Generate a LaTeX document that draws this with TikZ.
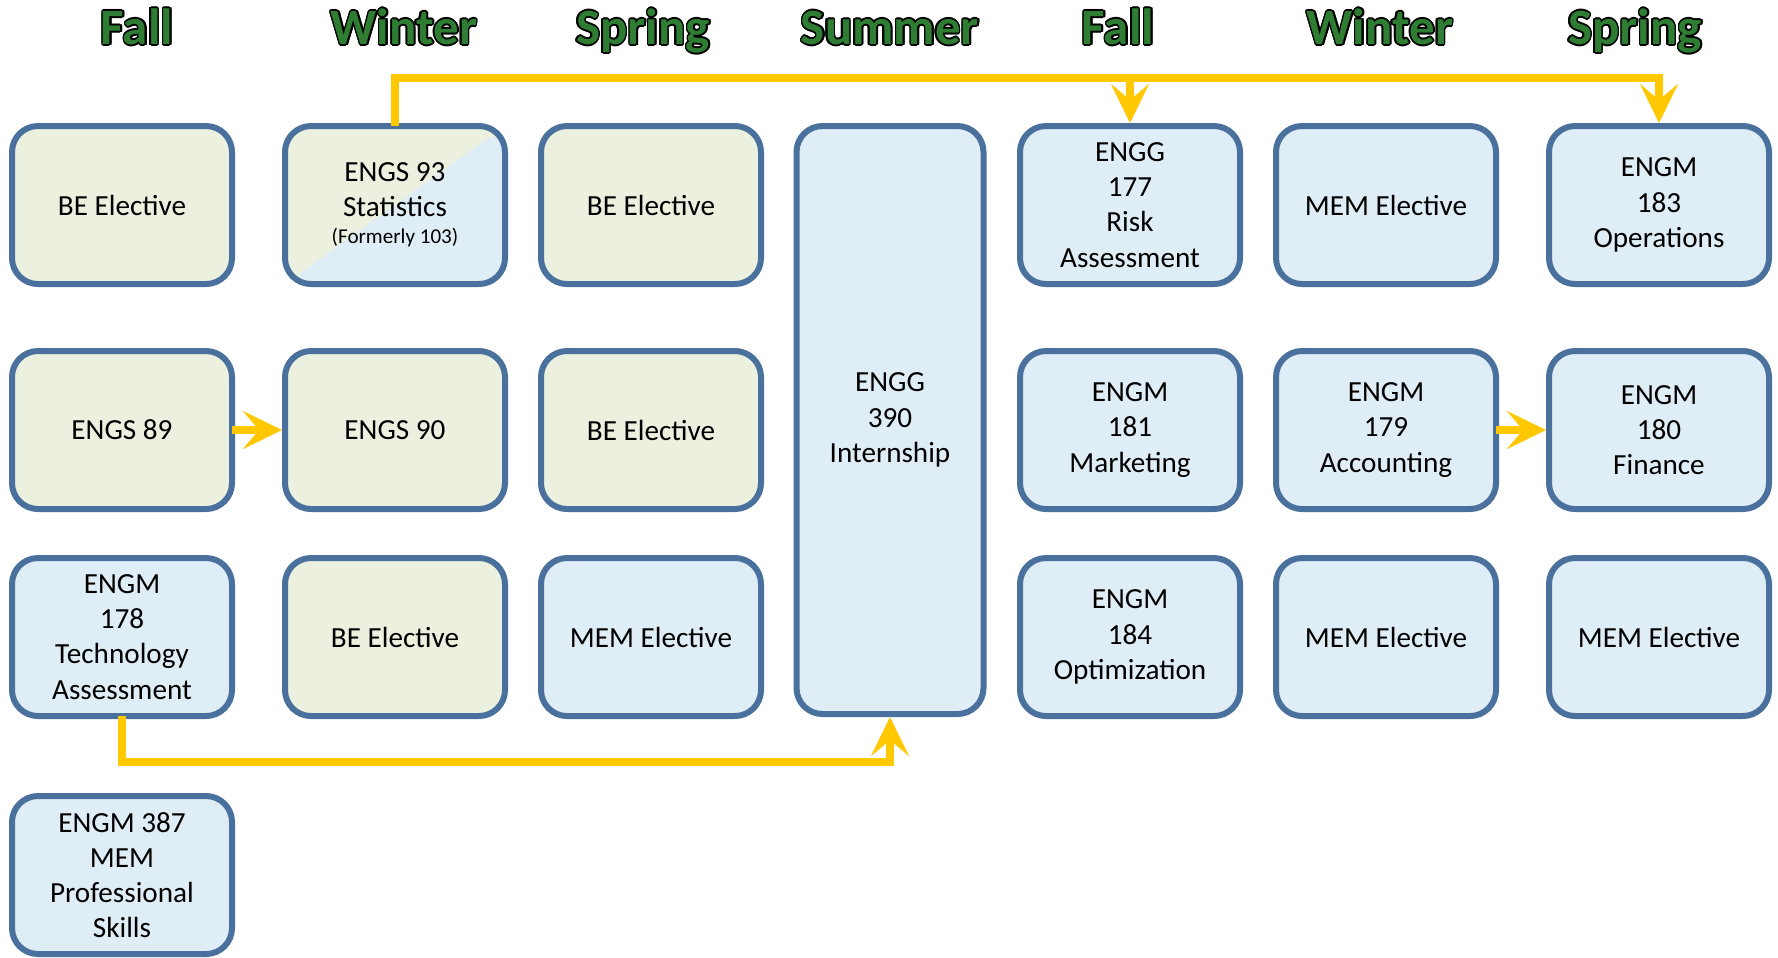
\documentclass[tikz,border=0pt]{standalone}
\usepackage{fontspec}
\setmainfont{Carlito}
\usepackage[copies]{contour}
\usetikzlibrary{positioning,arrows.meta}
\definecolor{beGreen}{RGB}{235,241,222}
\definecolor{memBlue}{RGB}{223,238,246}
\definecolor{boxBorder}{RGB}{74,112,158}
\definecolor{flowYellow}{RGB}{255,200,0}
\definecolor{termGreen}{RGB}{46,125,50}
\contourlength{0.45pt}

\begin{document}
\begin{tikzpicture}
\tikzstyle{course}=[rectangle, rounded corners=2.6mm, line width=0.6mm, draw=boxBorder, outer sep=0pt, minimum width=22mm, minimum height=15.8mm, align=center, inner sep=0.5mm, font=\fontsize{8.3}{10}\selectfont]
\tikzstyle{be}=[course, fill=beGreen]
\tikzstyle{mem}=[course, fill=memBlue]
\tikzstyle{term}=[anchor=base, font=\fontsize{14.5}{16}\selectfont\bfseries, text=termGreen]
\tikzstyle{flow}=[-{Stealth[length=3.9mm, width=3.8mm, inset=1.6mm]}, line width=0.75mm, draw=flowYellow, shorten >=0.3mm]
  \useasboundingbox (0,0) rectangle (17.78,-9.57);
  \foreach \x/\t [count=\i] in {1.37/Fall, 4.04/Winter, 6.43/Spring, 8.90/Summer, 11.18/Fall, 13.80/Winter, 16.35/Spring}
    \node[term] (term\i) at (\x,-0.445) {\contour{black}{\t}};
  % first row
  \node[be] (be1) at (1.22,-2.05) {BE Elective};
  \node[be, path picture={\fill[memBlue] (path picture bounding box.south west) -- (path picture bounding box.south east) -- (path picture bounding box.north east) -- cycle;}] (engs93) [right=5.3mm of be1] {ENGS 93\\Statistics\\[-2.3pt]{\fontsize{6}{7}\selectfont (Formerly 103)}};
  \node[be] (be2) [right=3.6mm of engs93] {BE Elective};
  \node[mem, minimum width=18.7mm, minimum height=58.8mm] (engg390) [right=3.55mm of be2.north east, anchor=north west] {ENGG\\390\\Internship};
  \node[mem] (engg177) [right=3.65mm of engg390.north east, anchor=north west] {ENGG\\177\\Risk\\Assessment};
  \node[mem] (mem1) [right=3.6mm of engg177] {MEM Elective};
  \node[mem] (engm183) [right=5.3mm of mem1] {ENGM\\183\\Operations};
  % second row
  \node[be] (engs89) [below=6.7mm of be1] {ENGS 89};
  \node[be] (engs90) [below=6.7mm of engs93] {ENGS 90};
  \node[be] (be3) [below=6.7mm of be2] {BE Elective};
  \node[mem] (engm181) [below=6.7mm of engg177] {ENGM\\181\\Marketing};
  \node[mem] (engm179) [below=6.7mm of mem1] {ENGM\\179\\Accounting};
  \node[mem] (engm180) [below=6.7mm of engm183] {ENGM\\180\\Finance};
  % third row
  \node[mem] (engm178) [below=4.9mm of engs89] {ENGM\\178\\Technology\\Assessment};
  \node[be] (be4) [below=4.9mm of engs90] {BE Elective};
  \node[mem] (mem2) [below=4.9mm of be3] {MEM Elective};
  \node[mem] (engm184) [below=4.9mm of engm181] {ENGM\\184\\Optimization};
  \node[mem] (mem3) [below=4.9mm of engm179] {MEM Elective};
  \node[mem] (mem4) [below=4.9mm of engm180] {MEM Elective};
  \node[mem] (engm387) [below=8mm of engm178] {ENGM 387\\MEM\\Professional\\Skills};
  % prerequisites
  \coordinate (topline) at (0,-0.78);
  \coordinate (botline) at (0,-7.62);
  \draw[flow] (engs93.north) -- (engs93.north |- topline) -| (engm183.north);
  \draw[flow] (engg177.north |- topline) -- (engg177.north);
  \draw[flow] (engs89) -- (engs90);
  \draw[flow] (engm179) -- (engm180);
  \draw[flow] (engm178.south) -- (engm178.south |- botline) -| (engg390.south);
\end{tikzpicture}
\end{document}
